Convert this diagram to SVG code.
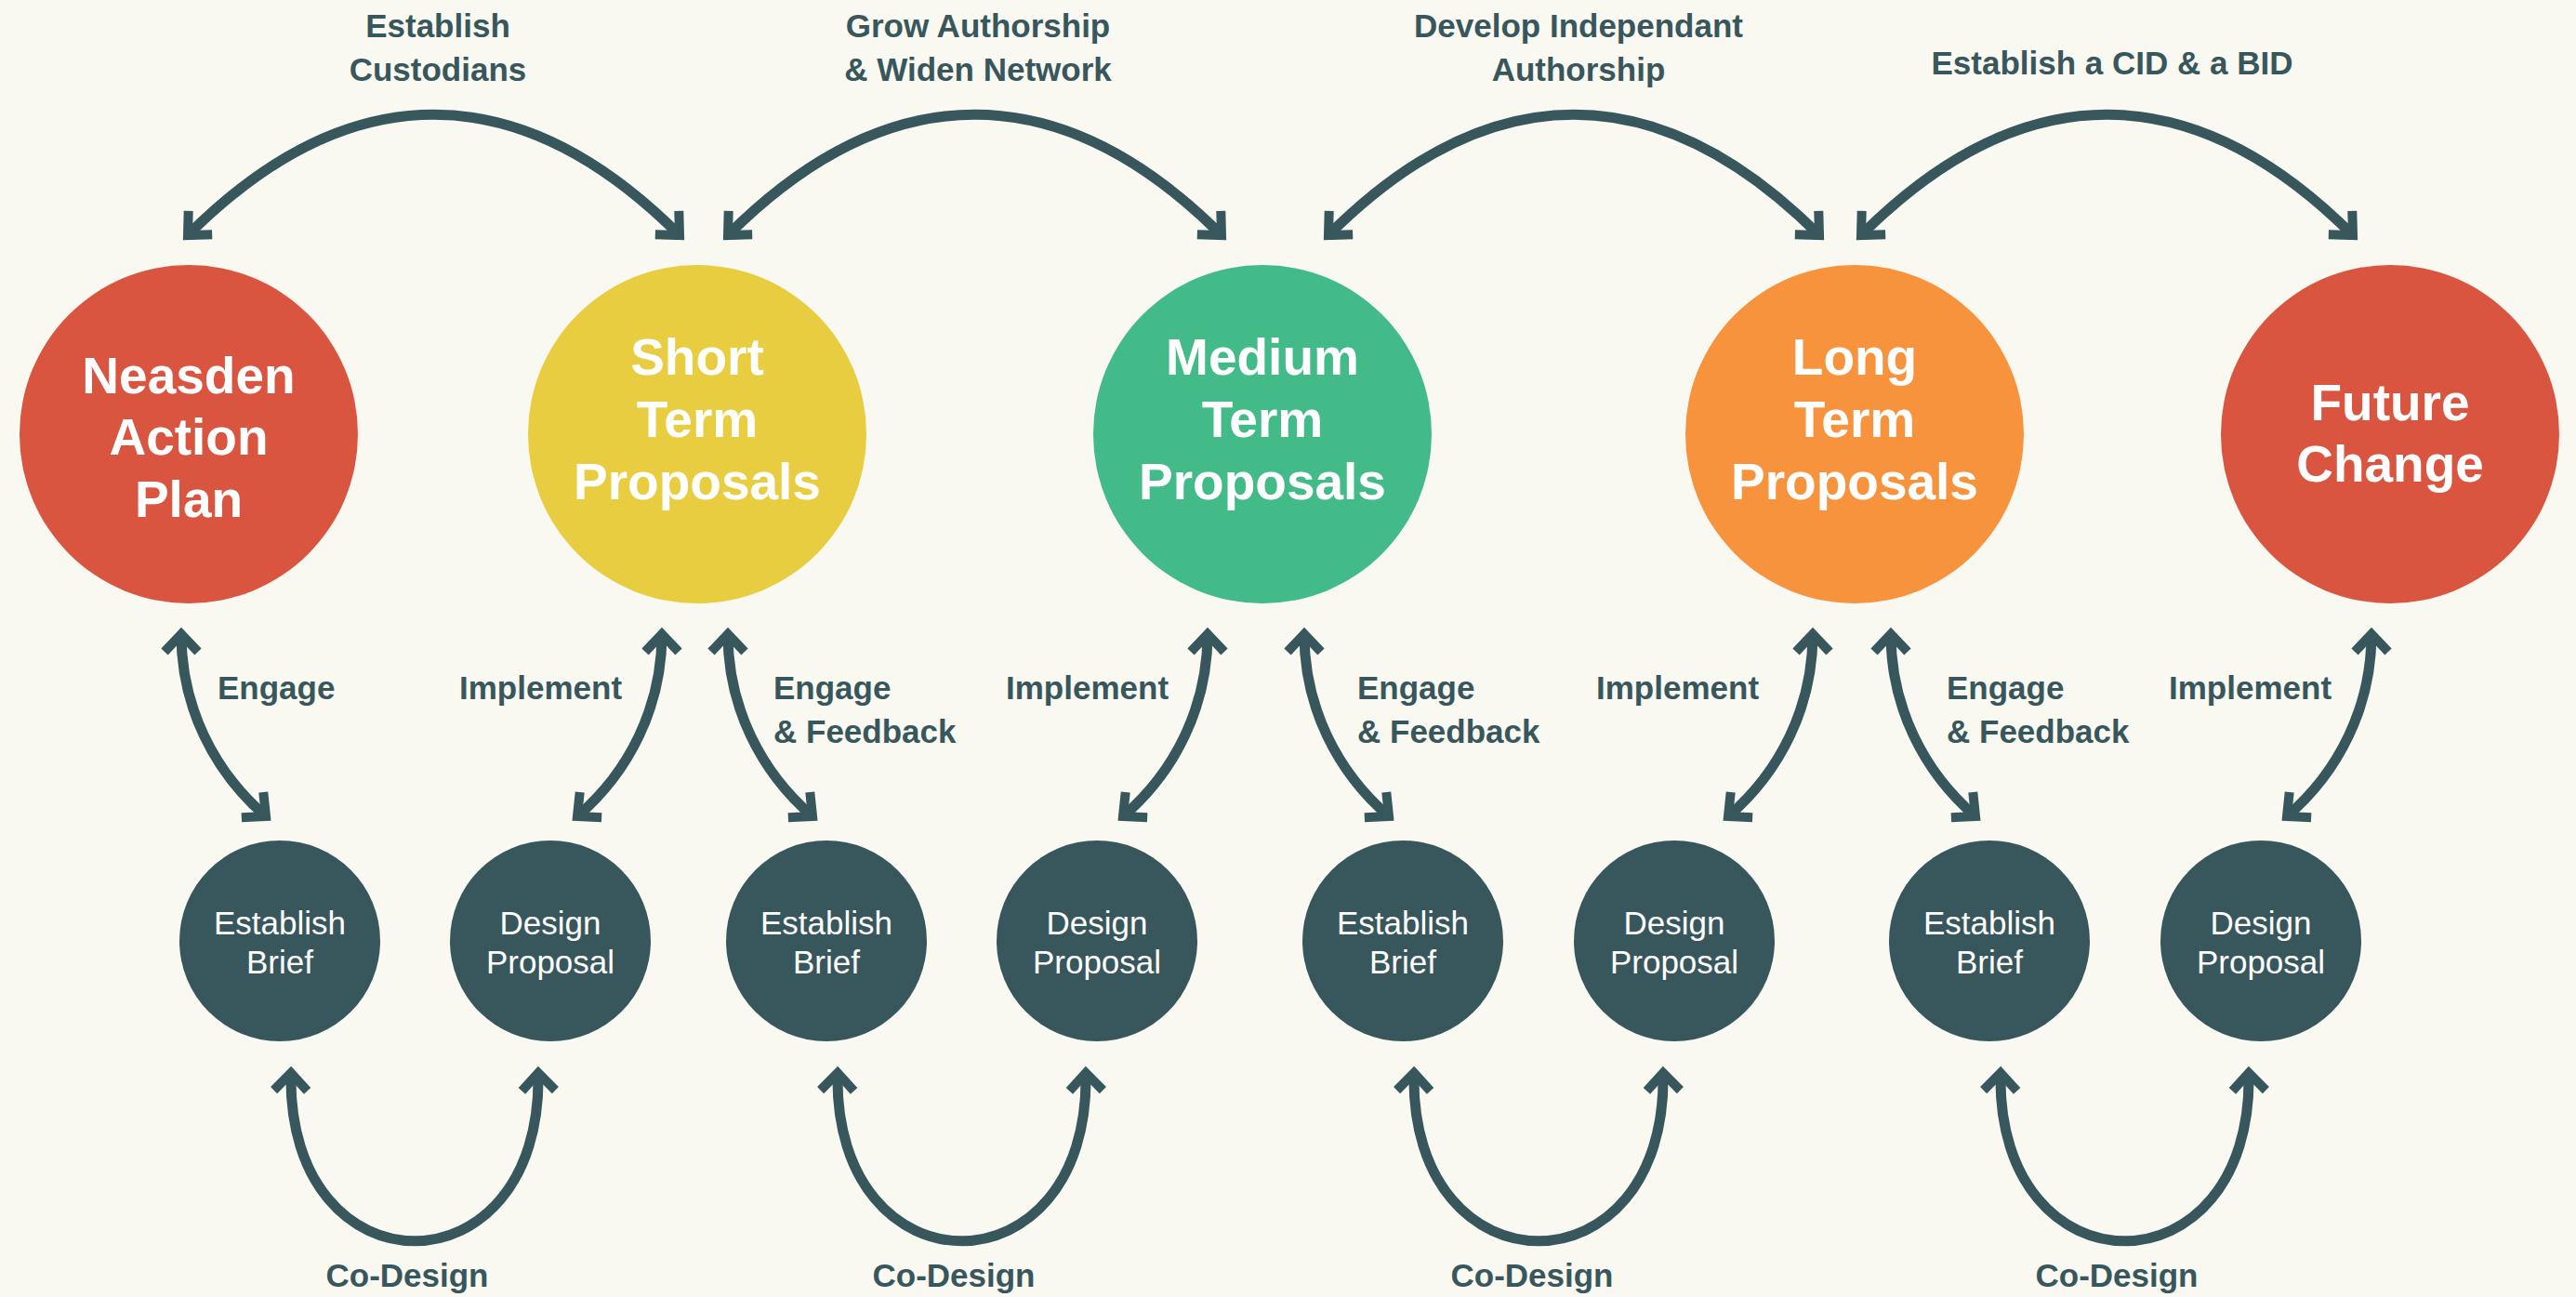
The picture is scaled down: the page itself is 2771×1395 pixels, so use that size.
<svg xmlns="http://www.w3.org/2000/svg" width="2771" height="1395" viewBox="0 0 2771 1395">
<defs>
<style>
.bg{fill:#f9f8f1}
.big{font-family:"Liberation Sans",Arial,sans-serif;font-weight:bold;font-size:55px;fill:#ffffff;text-anchor:middle}
.small{font-family:"Liberation Sans",Arial,sans-serif;font-size:35px;fill:#ffffff;text-anchor:middle}
.lbl{font-family:"Liberation Sans",Arial,sans-serif;font-weight:bold;font-size:35px;fill:#38575c}
.mid{text-anchor:middle}
.sc{fill:#38575c}
.conn{fill:none;stroke:#38575c;stroke-width:11;marker-start:url(#ah);marker-end:url(#ah)}
</style>
<marker id="ah" markerUnits="userSpaceOnUse" viewBox="-40 -40 60 80" refX="0" refY="0" markerWidth="60" markerHeight="80" orient="auto-start-reverse" overflow="visible">
<polyline points="-19,-18 0,0 -19,18" fill="none" stroke="#38575c" stroke-width="10" stroke-linejoin="miter" stroke-miterlimit="10"/>
</marker>
</defs>
<rect class="bg" x="0" y="0" width="2771" height="1395"/>

<g id="connectors">
<path class="conn" d="M202,253 C375,80 558,80 731,253"/>
<path class="conn" d="M783,253 C956,80 1141,80 1314,253"/>
<path class="conn" d="M1429,253 C1602,80 1784,80 1957,253"/>
<path class="conn" d="M2002,253 C2175,80 2358,80 2531,253"/>

<path class="conn" d="M195,682 c0,78 35,148 91,196"/>
<path class="conn" d="M712,682 c0,78 -35,148 -91,196"/>
<path class="conn" d="M783,682 c0,78 35,148 91,196"/>
<path class="conn" d="M1299,682 c0,78 -35,148 -91,196"/>
<path class="conn" d="M1403,682 c0,78 35,148 91,196"/>
<path class="conn" d="M1950,682 c0,78 -35,148 -91,196"/>
<path class="conn" d="M2034,682 c0,78 35,148 91,196"/>
<path class="conn" d="M2551,682 c0,78 -35,148 -91,196"/>

<path class="conn" d="M313,1154 C308,1395 584,1395 579,1154"/>
<path class="conn" d="M901,1154 C896,1395 1173,1395 1168,1154"/>
<path class="conn" d="M1521,1154 C1516,1395 1794,1395 1789,1154"/>
<path class="conn" d="M2152,1154 C2147,1395 2424,1395 2419,1154"/>
</g>

<g id="edge-labels">
<text class="lbl mid" x="471" y="40">Establish</text>
<text class="lbl mid" x="471" y="87">Custodians</text>
<text class="lbl mid" x="1052" y="40">Grow Authorship</text>
<text class="lbl mid" x="1052" y="87">&amp; Widen Network</text>
<text class="lbl mid" x="1698" y="40">Develop Independant</text>
<text class="lbl mid" x="1698" y="87">Authorship</text>
<text class="lbl mid" x="2272" y="80">Establish a CID &amp; a BID</text>

<text class="lbl" x="234" y="752">Engage</text>
<text class="lbl" x="494" y="752">Implement</text>
<text class="lbl" x="832" y="752">Engage</text>
<text class="lbl" x="832" y="799">&amp; Feedback</text>
<text class="lbl" x="1082" y="752">Implement</text>
<text class="lbl" x="1460" y="752">Engage</text>
<text class="lbl" x="1460" y="799">&amp; Feedback</text>
<text class="lbl" x="1717" y="752">Implement</text>
<text class="lbl" x="2094" y="752">Engage</text>
<text class="lbl" x="2094" y="799">&amp; Feedback</text>
<text class="lbl" x="2333" y="752">Implement</text>

<text class="lbl mid" x="438" y="1384">Co-Design</text>
<text class="lbl mid" x="1026" y="1384">Co-Design</text>
<text class="lbl mid" x="1648" y="1384">Co-Design</text>
<text class="lbl mid" x="2277" y="1384">Co-Design</text>
</g>

<g id="neasden-action-plan">
<circle cx="203" cy="467" r="182" fill="#d95540"/>
<text class="big" x="203" y="423">Neasden</text>
<text class="big" x="203" y="489">Action</text>
<text class="big" x="203" y="556">Plan</text>
</g>
<g id="short-term-proposals">
<circle cx="750" cy="467" r="182" fill="#e8cd41"/>
<text class="big" x="750" y="403">Short</text>
<text class="big" x="750" y="470">Term</text>
<text class="big" x="750" y="537">Proposals</text>
</g>
<g id="medium-term-proposals">
<circle cx="1358" cy="467" r="182" fill="#42bb89"/>
<text class="big" x="1358" y="403">Medium</text>
<text class="big" x="1358" y="470">Term</text>
<text class="big" x="1358" y="537">Proposals</text>
</g>
<g id="long-term-proposals">
<circle cx="1995" cy="467" r="182" fill="#f7933d"/>
<text class="big" x="1995" y="403">Long</text>
<text class="big" x="1995" y="470">Term</text>
<text class="big" x="1995" y="537">Proposals</text>
</g>
<g id="future-change">
<circle cx="2571" cy="467" r="182" fill="#d95540"/>
<text class="big" x="2571" y="452">Future</text>
<text class="big" x="2571" y="518">Change</text>
</g>

<g id="establish-brief-1">
<circle class="sc" cx="301" cy="1012" r="108"/>
<text class="small" x="301" y="1005">Establish</text>
<text class="small" x="301" y="1047">Brief</text>
</g>
<g id="design-proposal-1">
<circle class="sc" cx="592" cy="1012" r="108"/>
<text class="small" x="592" y="1005">Design</text>
<text class="small" x="592" y="1047">Proposal</text>
</g>
<g id="establish-brief-2">
<circle class="sc" cx="889" cy="1012" r="108"/>
<text class="small" x="889" y="1005">Establish</text>
<text class="small" x="889" y="1047">Brief</text>
</g>
<g id="design-proposal-2">
<circle class="sc" cx="1180" cy="1012" r="108"/>
<text class="small" x="1180" y="1005">Design</text>
<text class="small" x="1180" y="1047">Proposal</text>
</g>
<g id="establish-brief-3">
<circle class="sc" cx="1509" cy="1012" r="108"/>
<text class="small" x="1509" y="1005">Establish</text>
<text class="small" x="1509" y="1047">Brief</text>
</g>
<g id="design-proposal-3">
<circle class="sc" cx="1801" cy="1012" r="108"/>
<text class="small" x="1801" y="1005">Design</text>
<text class="small" x="1801" y="1047">Proposal</text>
</g>
<g id="establish-brief-4">
<circle class="sc" cx="2140" cy="1012" r="108"/>
<text class="small" x="2140" y="1005">Establish</text>
<text class="small" x="2140" y="1047">Brief</text>
</g>
<g id="design-proposal-4">
<circle class="sc" cx="2432" cy="1012" r="108"/>
<text class="small" x="2432" y="1005">Design</text>
<text class="small" x="2432" y="1047">Proposal</text>
</g>
</svg>
